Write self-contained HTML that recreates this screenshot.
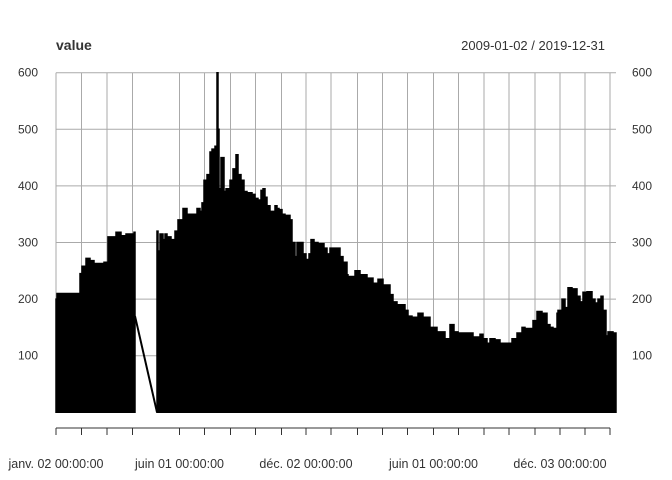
<!DOCTYPE html>
<html><head><meta charset="utf-8"><style>
html,body{margin:0;padding:0;background:#fff;}
svg{display:block;font-family:"Liberation Sans",sans-serif;}
</style></head><body>
<svg id="chart" width="672" height="480" viewBox="0 0 672 480" xmlns="http://www.w3.org/2000/svg">
<text x="56" y="50" font-size="14" font-weight="bold" fill="#333">value</text>
<text x="605" y="50" font-size="13" fill="#333" text-anchor="end">2009-01-02 / 2019-12-31</text>
<g id="grid"></g><g id="series"></g><g id="axes"></g>
</svg>
<script>
// observation index (time) and values, segment 1 and segment 2
const seg1Obs = [0,1,12,13,14,22,24,26,30,34,38,48,52,53,60,65,70,78,79];
const seg1Val = [200,210,210,130,210,210,245,258,272,268,263,265,310,310,318,312,315,318,170];
const gapObs = [79,101];
const gapVal = [170,0];
const seg2Obs = [101,102,104,107,109,111,115,119,122,127,131,136,141,144,146,148,151,154,156,159,161,162,163,165,168,170,174,177,180,182,185,188,191,196,199,202,205,207,209,211,214,217,219,221,223,226,229,234,236,239,241,243,247,250,253,255,258,262,268,271,274,284,287,291,292,299,304,311,317,322,327,334,337,341,349,352,356,362,367,374,381,389,394,398,402,407,417,424,427,431,434,439,444,447,456,461,466,469,474,477,481,486,491,494,497,501,502,506,509,512,516,521,524,527,531,536,539,542,545,547,550,552,557,560];
const seg2Val = [320,285,315,305,315,310,305,320,340,360,350,350,360,355,370,410,420,460,465,470,600,500,395,450,390,395,410,430,455,420,410,390,388,385,378,375,392,395,380,365,355,355,365,360,358,350,348,340,300,275,300,300,280,270,280,305,300,298,290,280,290,275,265,243,240,250,243,237,228,235,225,208,195,190,180,170,168,175,168,150,142,130,155,142,140,140,133,138,130,122,130,128,122,122,130,140,150,148,148,162,178,175,155,150,148,175,180,200,185,220,218,205,195,212,213,200,193,200,205,180,135,142,140,140];
const yTicks = [100,200,300,400,500,600];
const gridObs = [0,25.5,51,76.5,123.5,148.5,174.5,199.5,225.5,250,275,301.5,326.5,351.5,377.5,402.5,428,453,479,504,529,554];
const xLabels = ["janv. 02 00:00:00","juin 01 00:00:00","déc. 02 00:00:00","juin 01 00:00:00","déc. 03 00:00:00"];
const xLabelObs = [0,123.5,250,377.5,504];

const X0=56, Y0=412.3, PY=0.566;
const xs = o => X0 + o;
const ys = v => Y0 - v*PY;
const NS="http://www.w3.org/2000/svg";
function mk(tag, attrs, parent){const e=document.createElementNS(NS,tag);for(const k in attrs)e.setAttribute(k,attrs[k]);parent.appendChild(e);return e;}
const grid=document.getElementById('grid'), ser=document.getElementById('series'), ax=document.getElementById('axes');
for(const g of gridObs){
  const l=mk('line',{x1:xs(g),x2:xs(g),y1:ys(600),y2:Y0,stroke:'#aaa','stroke-width':1},grid);
  
  
  const t=mk('line',{x1:xs(g),x2:xs(g),y1:428,y2:435,stroke:'#333','stroke-width':1},ax);
  
  
}
for(const v of yTicks){
  const l=mk('line',{x1:X0,x2:616,y1:ys(v),y2:ys(v),stroke:'#aaa','stroke-width':1},grid);
  
  
  const a=mk('text',{x:38,y:ys(v)+4,'font-size':12,fill:'#333','text-anchor':'end'},ax);a.textContent=v;
  
  
  const b=mk('text',{x:632,y:ys(v)+4,'font-size':12,fill:'#333'},ax);b.textContent=v;
  
  
}
const axl=mk('line',{x1:X0,x2:xs(gridObs[gridObs.length-1]),y1:428,y2:428,stroke:'#333','stroke-width':1},ax);


xLabels.forEach((s,i)=>{
  const t=mk('text',{x:xs(xLabelObs[i]),y:468,'font-size':12.5,fill:'#333','text-anchor':'middle'},ax);t.textContent=s;
  
  
});
function area(obs,val,name){
  let d='M'+xs(obs[0])+','+Y0;
  for(let i=0;i<obs.length;i++){
    d+=' L'+xs(obs[i])+','+ys(val[i]);
    if(i<obs.length-1) d+=' L'+xs(obs[i+1])+','+ys(val[i]);
  }
  d+=' L'+xs(obs[obs.length-1])+','+Y0+' Z';
  const p=mk('path',{d:d,fill:'#000',stroke:'#000','stroke-width':1.5},ser);
  
  
}
area(seg1Obs,seg1Val,'series-area-1');
area(seg2Obs,seg2Val,'series-area-2');
const gl=mk('line',{x1:xs(gapObs[0]),y1:ys(gapVal[0]),x2:xs(gapObs[1]),y2:ys(gapVal[1]),stroke:'#000','stroke-width':2},ser);


</script>
</body></html>
